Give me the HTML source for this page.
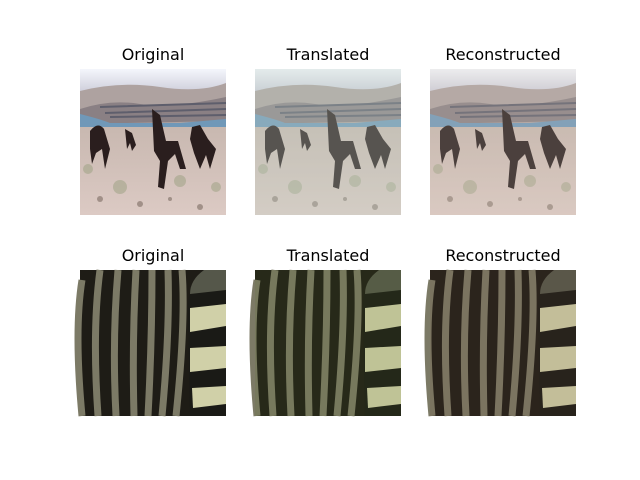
<!DOCTYPE html>
<html><head><meta charset="utf-8"><style>
html,body{margin:0;padding:0;background:#fff;}
svg{display:block;font-family:"DejaVu Sans","Liberation Sans",sans-serif;}
</style></head><body>
<svg width="640" height="480" viewBox="0 0 640 480">
<defs>
<linearGradient id="sky" x1="0" y1="0" x2="0" y2="1">
<stop offset="0" stop-color="#f4f6fc"/><stop offset="1" stop-color="#d0d0dc"/></linearGradient>
<linearGradient id="ground" x1="0" y1="0" x2="0" y2="1">
<stop offset="0" stop-color="#c8b8b0"/><stop offset="1" stop-color="#dccac4"/></linearGradient>
<g id="horses">
<rect width="146" height="146" fill="url(#ground)"/>
<rect width="146" height="22" fill="url(#sky)"/>
<path d="M0 22 Q40 12 80 18 T146 14 L146 55 L0 58Z" fill="#aea2a0"/>
<path d="M0 40 Q30 30 60 35 T146 28 L146 52 L0 55Z" fill="#8a8084"/>
<path d="M20 38 L146 34 M25 44 L146 40 M30 48 L146 46" stroke="#5e5e6c" stroke-width="2"/>
<path d="M0 45 Q20 50 30 54 L100 54 L146 50 L146 60 L0 62Z" fill="#7098b8"/>
<rect x="0" y="58" width="146" height="88" fill="url(#ground)"/>
<g fill="#9aa080" opacity="0.5"><circle cx="8" cy="100" r="5"/><circle cx="40" cy="118" r="7"/><circle cx="100" cy="112" r="6"/><circle cx="136" cy="118" r="5"/></g>
<g fill="#2a1e1e">
<path d="M10 62 Q18 52 24 60 L30 80 L25 100 L22 80 L16 84 L12 95 L10 80Z"/>
<path d="M45 60 L52 64 L56 76 L52 82 L50 74 L47 80Z"/>
<path d="M72 40 L80 46 L86 72 L98 72 L106 100 L100 100 L95 85 L88 92 L84 120 L78 118 L80 92 L74 82Z"/>
<path d="M112 58 L120 56 L128 70 L136 80 L130 100 L126 86 L120 100 L114 84 L110 70Z"/>
</g>
<g fill="#6a5a50" opacity="0.5"><circle cx="20" cy="130" r="3"/><circle cx="60" cy="135" r="3"/><circle cx="120" cy="138" r="3"/><circle cx="90" cy="130" r="2"/></g>
</g>
<g id="zebra">
<rect width="146" height="146" fill="#1e1c16"/>
<g fill="none" stroke="#7c7a66" stroke-width="7">
<path d="M2 10 Q-6 60 2 146"/><path d="M20 0 Q12 60 18 146"/><path d="M38 0 Q32 70 36 146"/>
<path d="M56 0 Q52 70 54 146"/><path d="M72 0 Q72 70 68 146"/><path d="M88 0 Q90 60 82 146"/>
<path d="M102 0 Q106 50 96 146"/>
</g>
<path d="M124 0 Q108 10 108 40 L110 146 L146 146 L146 0Z" fill="#1a1a16"/>
<path d="M124 0 Q110 10 110 24 L146 20 L146 0Z" fill="#55574a"/>
<g fill="#d0d0a8">
<path d="M110 38 L146 34 L146 56 L110 62Z"/><path d="M110 78 L146 76 L146 98 L110 102Z"/>
<path d="M112 118 L146 116 L146 134 L113 138Z"/>
</g>
</g>
</defs>
<g font-size="16" fill="#000" text-anchor="middle">
<text x="153" y="60">Original</text>
<text x="328" y="60">Translated</text>
<text x="503" y="60">Reconstructed</text>
<text x="153" y="261">Original</text>
<text x="328" y="261">Translated</text>
<text x="503" y="261">Reconstructed</text>
</g>
<g><use href="#horses" x="80" y="69"/></g>
<g><use href="#horses" x="255" y="69"/><rect x="255" y="69" width="146" height="146" fill="#c0d4c8" opacity="0.3"/></g>
<g><use href="#horses" x="430" y="69"/><rect x="430" y="69" width="146" height="146" fill="#d0c8b8" opacity="0.2"/></g>
<g><use href="#zebra" x="80" y="270"/></g>
<g><use href="#zebra" x="255" y="270"/><rect x="255" y="270" width="146" height="146" fill="#607a30" opacity="0.15"/></g>
<g><use href="#zebra" x="430" y="270"/><rect x="430" y="270" width="146" height="146" fill="#7a5a40" opacity="0.15"/></g>
</svg>
</body></html>
